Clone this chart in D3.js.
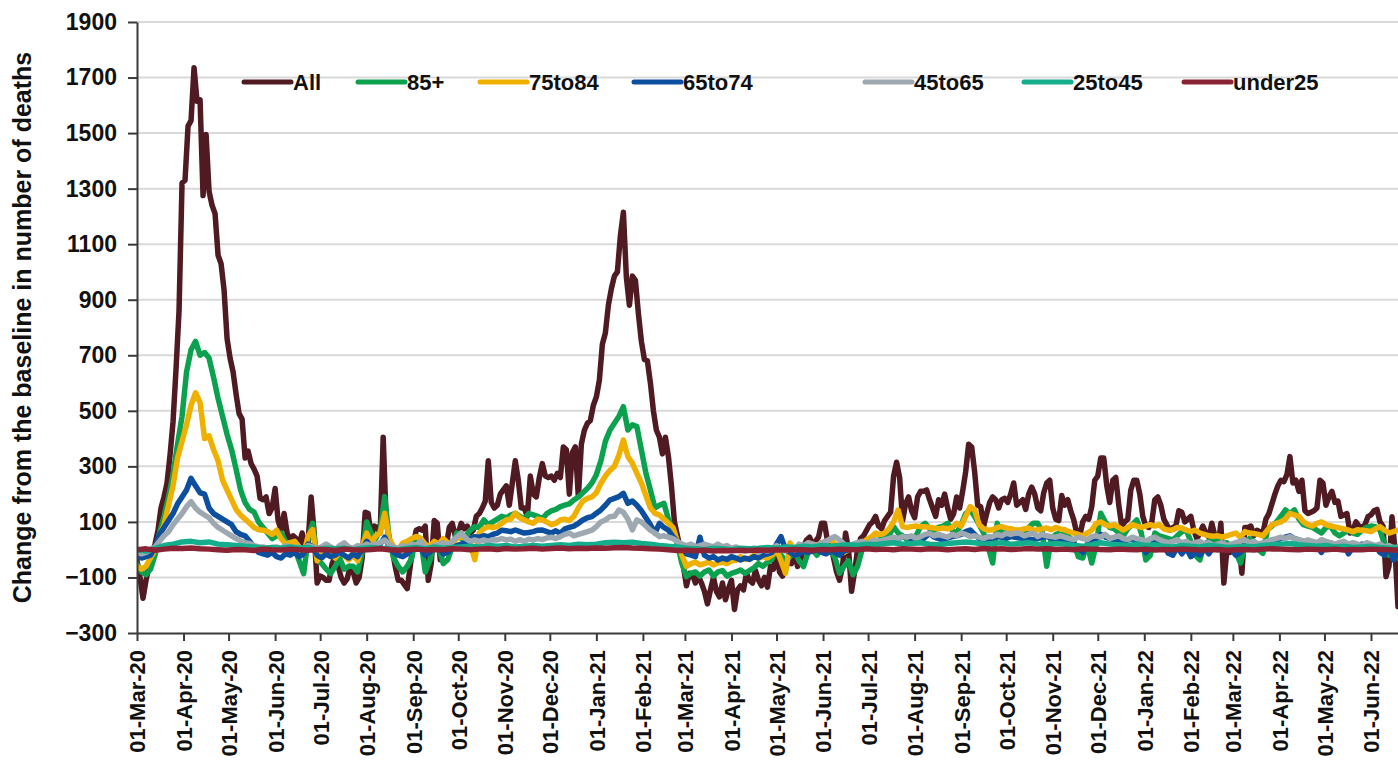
<!DOCTYPE html>
<html>
<head>
<meta charset="utf-8">
<script src="https://cdn.jsdelivr.net/npm/d3@7"></script>
<style>
  html, body { margin: 0; padding: 0; background: #fff; overflow: hidden; }
  svg { display: block; font-family: "Liberation Sans", Arial, sans-serif; font-weight: bold; }
</style>
</head>
<body>
<svg id="chart" width="1398" height="762"></svg>
<script>
// Daily change from the baseline in number of deaths, by age group.
const startDate = "2020-03-01";
const endDate = "2022-06-19";
const yTickValues = [-300, -100, 100, 300, 500, 700, 900, 1100, 1300, 1500, 1700, 1900];
const yTitle = "Change from the baseline in number of deaths";

const seriesNames = ["All", "85+", "75to84", "65to74", "45to65", "25to45", "under25"];
// spacing, in days, between consecutive values of each series
const stepDays = [2, 3, 3, 3, 3, 6, 6];

const valuesAll = [
  -40, -100, -175, -110, -60, -20, 20, 70, 150, 190,
  240, 340, 460, 650, 860, 1320, 1330, 1525, 1545, 1735,
  1615, 1620, 1275, 1495, 1290, 1240, 1210, 1060, 1030, 935,
  760, 690, 640, 560, 490, 470, 330, 355, 310, 290,
  265, 185, 180, 190, 130, 150, 220, 105, 70, 130,
  60, 35, 50, 40, 15, 60, 10, 30, 190, 60,
  -120, -95, -100, -110, -110, -50, -26, -60, -100, -120,
  -105, -60, -80, -120, -100, -30, 135, 130, 45, 85,
  80, 60, 405, 100, 40, 0, -60, -110, -110, -125,
  -140, -60, 20, 70, 75, 70, 85, -110, -50, 105,
  95, -36, -10, 10, 80, 95, 50, 60, 95, 75,
  85, 60, 70, 120, 130, 150, 175, 320, 170, 150,
  160, 200, 215, 230, 160, 240, 320, 250, 150, 150,
  120, 265, 200, 190, 260, 310, 265, 260, 265, 250,
  275, 260, 370, 360, 200, 350, 370, 190, 380, 430,
  455, 465, 520, 550, 610, 740, 780, 880, 940, 985,
  1000, 1130, 1215, 980, 880, 985, 970, 850, 750, 685,
  680, 600, 500, 430, 405, 345, 405, 335, 230, 100,
  50, 0, -60, -130, -85, -90, -120, -95, -120, -150,
  -195, -145, -100, -150, -170, -120, -180, -140, -110, -215,
  -145, -130, -145, -85, -110, -120, -75, -110, -130, -100,
  -135, -60, -70, 0, -80, -95, -70, -40, -50, -10,
  -60, -40, 10, 35, 45, 20, 30, 45, 95, 95,
  30, 20, -30, -80, -110, -60, 60, 0, -150, -80,
  0, 40, 50, 70, 90, 100, 120, 85, 75, 105,
  120, 135, 265, 315, 260, 105, 165, 190, 140, 115,
  190, 210, 210, 215, 180, 150, 120, 180, 160, 200,
  150, 110, 130, 190, 150, 210, 280, 380, 370, 280,
  160, 155, 85, 130, 170, 190, 180, 150, 180, 185,
  170, 200, 240, 160, 170, 180, 145, 200, 225, 200,
  150, 140, 205, 240, 250, 150, 110, 105, 195, 160,
  180, 140, 107, 60, 50, 100, 120, 110, 155, 250,
  265, 330, 330, 230, 170, 250, 260, 160, 85, 100,
  110, 215, 250, 250, 200, 120, 85, 80, 100, 180,
  190, 160, 110, 90, 70, 80, 85, 140, 135, 100,
  110, 120, 70, 40, 60, 85, 60, 45, 95, 50,
  0, 95, -120, 0, -10, -5, 10, 20, -85, 80,
  80, 85, 50, 70, 65, 60, 110, 130, 165, 200,
  230, 250, 245, 270, 335, 240, 250, 210, 250, 140,
  130, 135, 140, 150, 250, 240, 160, 190, 210, 170,
  175, 120, 125, 130, 60, 70, 100, 85, 80, 90,
  119, 125, 140, 145, 100, 85, -97, -60, 119, 0,
  -205
];

const values85plus = [
  -50, -80, -90, -70, -20, 60, 120, 190, 270, 380,
  480, 640, 720, 750, 700, 710, 690, 620, 545, 480,
  415, 360, 290, 215, 170, 145, 135, 100, 80, 60,
  40, 50, 60, 30, 20, 5, -40, -86, 40, 95,
  -38, -50, -70, -86, -60, -30, -70, -60, -60, -80,
  -10, 100, 60, 40, 70, 191, 40, -30, -60, -80,
  -60, -30, 47, 40, -80, -40, 20, 10, -50, -36,
  10, 60, 40, 50, 70, 83, 80, 107, 90, 100,
  110, 120, 115, 125, 131, 120, 110, 130, 125, 120,
  110, 130, 140, 145, 155, 160, 165, 179, 190, 205,
  220, 240, 270, 320, 390, 430, 455, 480, 515, 431,
  450, 443, 359, 275, 215, 150, 160, 167, 110, 70,
  20, -50, -97, -85, -80, -95, -80, -73, -95, -80,
  -75, -95, -85, -80, -73, -85, -75, -65, -50, -60,
  -45, -35, 10, -20, -40, -25, -10, -40, -61, -10,
  0, -20, 10, 24, 0, -30, -85, -60, -40, -90,
  -60, 0, 10, 20, 30, 36, 40, 50, 83, 60,
  50, 36, 30, 50, 83, 95, 75, 70, 80, 85,
  95, 70, 60, 90, 130, 143, 120, 90, 60, 10,
  -48, 95, 60, 70, 75, 65, 60, 55, 80, 95,
  95, 65, -60, 40, 55, 60, 70, 45, 30, -25,
  -30, 20, -48, 20, 131, 100, 80, 75, 60, 50,
  75, 90, 107, 60, -37, -20, 60, 50, 45, 40,
  35, 50, 65, 70, 30, -20, -37, 20, 30, 35,
  40, 20, 25, 10, -10, -48, 10, 40, 30, 0,
  -13, 71, 85, 100, 120, 143, 130, 143, 110, 90,
  85, 80, 70, 60, 80, 85, 60, 50, 60, 70,
  60, 55, 70, 80, 85, 83, 70, 20, -20, 10,
  -30
];

const values75to84 = [
  -60, -70, -60, -30, 0, 50, 90, 160, 230, 330,
  390, 450, 520, 565, 530, 400, 410, 360, 320, 250,
  215, 180, 145, 125, 110, 95, 80, 72, 70, 65,
  55, 70, 40, 20, 25, 30, 10, -15, 50, 72,
  -40, -20, 0, -13, -30, -10, -20, -36, -20, -40,
  10, 60, 24, 50, 60, 131, 40, 10, 0, 24,
  30, 40, 47, 40, 20, 10, 30, 20, 40, 25,
  20, 40, 47, 40, 20, -36, 60, 75, 83, 80,
  83, 95, 107, 110, 131, 115, 107, 100, 95, 110,
  107, 100, 90, 95, 107, 110, 105, 120, 150, 175,
  185, 190, 205, 239, 265, 285, 300, 340, 395, 335,
  311, 275, 240, 195, 150, 131, 125, 110, 95, 80,
  30, -20, -60, -50, -45, -55, -50, -45, -55, -48,
  -45, -50, -40, -38, -25, -35, -30, -20, -30, -25,
  -30, -20, 0, -40, -85, 24, 0, -10, 10, 24,
  20, 15, 24, 30, 36, 20, 10, -10, 0, 5,
  15, 24, 36, 45, 60, 55, 60, 75, 100, 143,
  83, 80, 83, 85, 83, 83, 80, 78, 75, 78,
  75, 80, 95, 85, 120, 155, 143, 90, 75, 70,
  72, 80, 83, 78, 75, 72, 70, 75, 78, 70,
  72, 75, 78, 72, 80, 75, 71, 65, 60, 55,
  50, 60, 70, 95, 100, 90, 85, 90, 80, 70,
  80, 90, 85, 80, 85, 90, 85, 90, 75, 70,
  72, 80, 78, 70, 65, 70, 60, 55, 50, 48,
  50, 45, 50, 55, 60, 45, 65, 60, 58, 55,
  50, 70, 90, 95, 100, 110, 131, 125, 120, 100,
  90, 85, 95, 100, 90, 85, 82, 78, 75, 70,
  65, 72, 70, 68, 65, 75, 83, 70, 60, 65,
  70
];

const values65to74 = [
  -20, -30, -25, -20, 10, 55, 80, 105, 130, 165,
  190, 215, 257, 230, 205, 200, 150, 130, 120, 110,
  100, 90, 65, 55, 50, 30, 10, -10, -15, -20,
  -10, -25, -30, -15, -20, -10, -25, -15, 20, 10,
  -20, -30, -15, -25, -20, -10, -20, -30, -15, -25,
  0, 30, 10, 15, 20, 45, 10, -10, -20, -25,
  -15, 0, 10, 5, -20, -10, 10, 5, -15, -10,
  5, 15, 20, 25, 40, 47, 45, 50, 47, 55,
  60, 70, 68, 65, 71, 65, 60, 62, 65, 70,
  71, 65, 60, 68, 59, 75, 80, 85, 95, 107,
  115, 119, 131, 143, 160, 179, 185, 191, 203, 167,
  175, 160, 140, 115, 90, 60, 95, 80, 70, 47,
  30, 10, -15, -20, -25, 45, -20, -30, -25, -37,
  -30, -35, -25, -30, -37, -30, -35, -25, -30, -20,
  -15, -10, 20, 47, 0, -10, -20, -15, -5, -10,
  -5, 0, -10, -15, -5, -10, -20, -5, 0, 5,
  0, 5, 12, 15, 20, 24, 30, 28, 36, 40,
  45, 47, 40, 35, 30, 45, 59, 45, 40, 35,
  42, 47, 50, 55, 65, 71, 55, 40, 30, 35,
  40, 47, 45, 40, 47, 45, 42, 40, 38, 36,
  40, 45, 47, 42, 38, 36, 30, 35, 20, 10,
  -10, 15, 30, 40, 55, 45, 40, 35, 30, 25,
  35, 40, 30, 20, -10, 10, 25, 20, 15, -13,
  -20, 10, -15, 5, -25, -10, -20, 5, -15, 10,
  15, 5, 10, 0, -20, -10, 10, 20, 15, 10,
  15, 25, 30, 35, 40, 45, 50, 40, 35, 30,
  25, 20, 15, -10, 20, 25, 15, 10, 20, -15,
  10, 15, 20, 10, 5, 15, -10, -20, 10, -37,
  -10
];

const values45to65 = [
  -10, -15, -10, 0, 10, 30, 50, 65, 90, 110,
  130, 155, 173, 150, 135, 125, 115, 95, 80, 70,
  60, 50, 40, 32, 25, 22, 15, 10, 10, 5,
  8, 10, 5, 15, 10, 5, 10, 0, 15, 10,
  5, 10, 20, 10, 0, 15, 25, 10, 5, 15,
  10, 20, 15, 20, 25, 35, 20, 10, 5, 15,
  10, 20, 15, 30, 10, 5, 15, 20, 25, 15,
  30, 45, 60, 40, 30, 35, 30, 35, 30, 36,
  35, 40, 35, 38, 30, 36, 30, 38, 35, 40,
  36, 42, 45, 40, 47, 55, 60, 50, 55, 60,
  65, 70, 83, 100, 107, 119, 120, 143, 135, 110,
  71, 107, 100, 85, 70, 60, 47, 50, 45, 40,
  30, 20, 15, 20, 10, 15, 20, 15, 10, 20,
  10, 15, 5, 10, 0, -5, 0, 5, -10, 0,
  -5, 5, 15, 0, -5, 10, 0, 20, 15, 25,
  20, 15, 25, 30, 40, 47, 35, 20, 12, 20,
  25, 30, 20, 30, 35, 30, 36, 40, 45, 40,
  47, 45, 50, 40, 47, 55, 59, 50, 55, 50,
  45, 55, 50, 60, 55, 47, 50, 45, 40, 47,
  47, 55, 50, 59, 55, 60, 59, 50, 55, 60,
  47, 55, 50, 47, 45, 50, 45, 40, 36, 45,
  40, 36, 47, 50, 45, 55, 40, 45, 50, 40,
  36, 45, 40, 36, 30, 40, 45, 36, 30, 25,
  30, 36, 25, 30, 20, 25, 30, 20, 25, 15,
  20, 25, 15, 20, 25, 30, 36, 25, 30, 20,
  25, 30, 36, 40, 45, 40, 47, 40, 36, 30,
  35, 30, 25, 36, 30, 25, 20, 25, 30, 20,
  25, 20, 15, 25, 20, 15, 20, 10, 15, 5,
  10
];

const values25to45 = [
  0, -5, 5, 15, 20, 28, 30, 25, 28, 20,
  18, 15, 12, 10, 5, 8, 5, 10, 5, 8,
  0, 5, 3, 5, 0, 5, 8, 5, 3, 0,
  5, 8, 3, 10, 5, 8, 10, 12, 10, 15,
  12, 15, 10, 12, 15, 12, 15, 18, 15, 20,
  18, 20, 25, 27, 25, 27, 22, 20, 15, 12,
  10, 5, 3, 0, 5, 3, 0, 5, 3, 5,
  8, 5, 10, 8, 12, 10, 15, 12, 15, 18,
  15, 20, 18, 22, 25, 20, 22, 25, 20, 18,
  22, 25, 28, 25, 20, 22, 25, 20, 22, 25,
  20, 18, 22, 20, 15, 12, 18, 25, 20, 18,
  15, 20, 15, 18, 12, 10, 15, 12, 10, 15,
  12, 8, 10, 12, 10, 15, 18, 20, 22, 18,
  15, 12, 15, 10, 12, 8, 10, 12, 8, 5,
  5
];

const valuesUnder25 = [
  0, 3, -2, 2, 5, 4, 6, 3, 2, 0,
  -2, 1, 0, -3, 2, 0, -1, 2, 0, -2,
  1, 0, -3, 2, 0, -1, 1, 3, 0, -2,
  0, 2, -1, 1, 0, 3, 2, 0, 2, 3,
  1, 4, 2, 3, 5, 2, 4, 6, 3, 5,
  4, 6, 5, 7, 8, 6, 5, 3, 2, 0,
  -3, -2, -4, -2, -5, -3, -4, -2, -3, -1,
  -2, 0, -1, 1, 0, -2, 1, 0, 2, 1,
  0, 3, 1, 2, 0, 3, 2, 1, 3, 2,
  0, 2, 3, 1, 4, 2, 3, 1, 2, 4,
  2, 3, 1, 2, 0, 3, 2, 1, 0, 2,
  1, 0, 2, -1, 1, 0, 2, 1, -1, 0,
  1, -2, 0, 1, -1, 2, 3, 2, 1, 0,
  2, 1, 0, 2, -1, 1, 0, 2, 1, 0,
  -2
];

const seriesValues = [valuesAll, values85plus, values75to84, values65to74,
                      values45to65, values25to45, valuesUnder25];
const seriesColors = ["#4f1a22", "#0ba14e", "#efb000", "#0d4f9f", "#9ea8b1", "#14ae8d", "#8a2434"];

// ---- layout ----
const W = 1398, H = 762;
const plot = { left: 137, right: 1398, top: 22, bottom: 633 };
const fontStack = "'Liberation Sans', Arial, sans-serif";

const parse = d3.utcParse("%Y-%m-%d");
const t0 = parse(startDate), t1 = parse(endDate);

const x = d3.scaleUtc().domain([t0, t1]).range([plot.left, plot.right]);
const y = d3.scaleLinear().domain([-300, 1900]).range([plot.bottom, plot.top]);

const svg = d3.select("#chart");

svg.append("defs").append("clipPath").attr("id", "plotClip")
  .append("rect")
  .attr("x", plot.left).attr("y", plot.top - 10)
  .attr("width", plot.right - plot.left).attr("height", plot.bottom - plot.top + 10);

// horizontal gridlines
svg.append("g")
  .selectAll("line")
  .data(yTickValues.filter(v => v !== -300))
  .join("line")
  .attr("x1", plot.left).attr("x2", plot.right)
  .attr("y1", d => y(d)).attr("y2", d => y(d))
  .attr("stroke", "#d9d9d9").attr("stroke-width", 2);

// series lines (first series drawn underneath, last on top)
const series = seriesNames.map((name, i) => ({
  name,
  color: seriesColors[i],
  points: seriesValues[i].map((v, k) => ({ date: d3.utcDay.offset(t0, k * stepDays[i]), value: v }))
}));

const line = d3.line().x(d => x(d.date)).y(d => y(d.value));

svg.append("g").attr("clip-path", "url(#plotClip)")
  .selectAll("path")
  .data(series)
  .join("path")
  .attr("d", d => line(d.points))
  .attr("fill", "none")
  .attr("stroke", d => d.color)
  .attr("stroke-width", 5.5)
  .attr("stroke-linejoin", "round")
  .attr("stroke-linecap", "round");

// y axis
const yAxis = svg.append("g")
  .attr("transform", `translate(${plot.left},0)`)
  .call(d3.axisLeft(y).tickValues(yTickValues).tickFormat(d3.format("d"))
    .tickSize(9).tickSizeOuter(0).tickPadding(11));
yAxis.select(".domain").attr("stroke", "#3a3a3a").attr("stroke-width", 2);
yAxis.selectAll(".tick line").attr("stroke", "#3a3a3a").attr("stroke-width", 2);
yAxis.selectAll(".tick text")
  .attr("font-size", 23).attr("font-weight", "bold").attr("fill", "#111")
  .attr("font-family", fontStack);

// x axis
const xAxis = svg.append("g")
  .attr("transform", `translate(0,${plot.bottom})`)
  .call(d3.axisBottom(x)
    .ticks(d3.utcMonth.every(1))
    .tickFormat(d3.utcFormat("%d-%b-%y"))
    .tickSize(8).tickSizeOuter(0));
xAxis.select(".domain").attr("stroke", "#3a3a3a").attr("stroke-width", 2);
xAxis.selectAll(".tick line").attr("stroke", "#3a3a3a").attr("stroke-width", 2);
xAxis.selectAll(".tick text")
  .attr("font-size", 22).attr("font-weight", "bold").attr("fill", "#111")
  .attr("font-family", fontStack)
  .attr("transform", "rotate(-90)")
  .attr("text-anchor", "end")
  .attr("x", -17).attr("y", 0).attr("dy", "0.36em");

// y axis title
svg.append("text")
  .attr("transform", `translate(22,${(plot.top + plot.bottom) / 2}) rotate(-90)`)
  .attr("text-anchor", "middle").attr("dy", "0.36em")
  .attr("font-size", 25).attr("fill", "#111")
  .text(yTitle);

// legend
const legendX = [242, 356, 478, 632, 863, 1022, 1182];
const legendY = 82;
const legend = svg.append("g")
  .selectAll("g")
  .data(series)
  .join("g")
  .attr("transform", (d, i) => `translate(${legendX[i]},${legendY})`);
legend.append("line")
  .attr("x1", 2).attr("x2", 49)
  .attr("stroke", d => d.color).attr("stroke-width", 5).attr("stroke-linecap", "round");
legend.append("text")
  .attr("x", 51).attr("dy", "0.36em")
  .attr("font-size", 22).attr("fill", "#111")
  .text(d => d.name);
</script>
</body>
</html>
